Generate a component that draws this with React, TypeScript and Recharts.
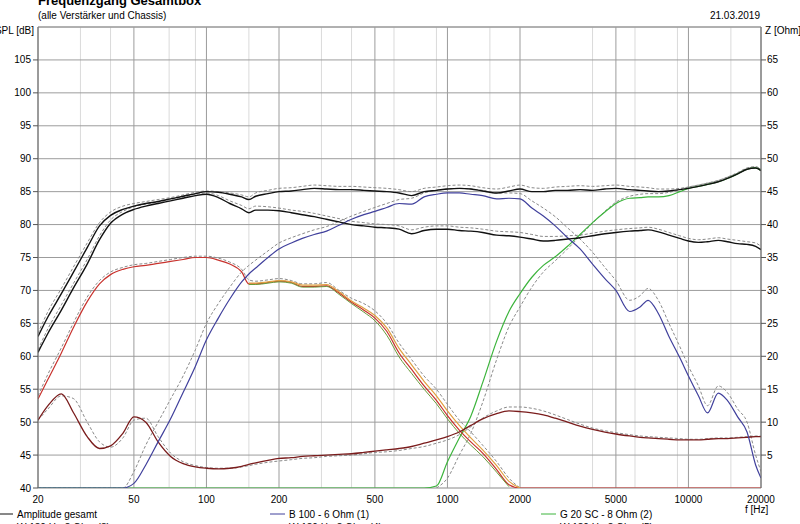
import React from "react";
import {
  LineChart,
  Line,
  XAxis,
  YAxis,
  CartesianGrid,
  ReferenceLine,
} from "recharts";

// frequency grid (Hz) shared by all curves
const FREQS = [
  20, 22, 25, 28, 32, 36, 40, 45, 50, 56,
  63, 71, 80, 90, 100, 112, 125, 140, 150, 160,
  180, 200, 225, 250, 280, 315, 355, 400, 450, 500,
  560, 630, 710, 800, 900, 1000, 1120, 1250, 1400, 1600,
  1800, 2000, 2240, 2500, 2800, 3150, 3550, 4000, 4500, 5000,
  5700, 6300, 6800, 7500, 8300, 9200, 10000, 11000, 12000, 13300,
  14500, 16000, 17500, 19000, 20000,
];

// SPL [dB]
const TOTAL = [
  63, 66, 69.5, 72.7, 76.5, 79.8, 81.4, 82.3, 82.8, 83.2,
  83.5, 83.9, 84.3, 84.7, 85, 84.9, 84.6, 84.2, 83.8, 84.3,
  84.7, 85, 85.1, 85.3, 85.5, 85.4, 85.3, 85.3, 85.2, 85.1,
  85, 84.8, 84.4, 85, 85.2, 85.4, 85.5, 85.4, 85.1, 84.8,
  85.1, 85.4, 85, 85, 85.2, 85.2, 85.3, 85.2, 85.4, 85.5,
  85.3, 85.2, 85.1, 85, 85.1, 85.3, 85.5, 85.8, 86.1, 86.5,
  87, 87.7, 88.4, 88.6, 88.2,
];
const TOTAL_DASH = [
  63.5, 66.8, 70.3, 73.5, 77.2, 80.3, 81.9, 82.8, 83.2, 83.5,
  83.8, 84.1, 84.5, 84.9, 85.1, 85, 84.8, 84.5, 84.2, 84.8,
  85.2, 85.5, 85.6, 85.8, 86, 85.9, 85.8, 85.8, 85.7, 85.6,
  85.5, 85.3, 85, 85.5, 85.7, 85.9, 86, 85.9, 85.6, 85.4,
  85.7, 86, 85.6, 85.5, 85.7, 85.8, 85.9, 85.8, 85.9, 86,
  85.8, 85.7, 85.6, 85.4, 85.4, 85.5, 85.7, 86, 86.3, 86.7,
  87.2, 87.8, 88.5, 88.7, 88.4,
];
const SUB = [
  60.6, 63.5, 67, 70.3, 74, 77.7, 80.2, 81.6, 82.3, 82.8,
  83.2, 83.6, 84, 84.4, 84.6, 84.1, 83.2, 82.4, 81.8, 82.2,
  82.2, 82.1, 81.8, 81.5, 81.2, 80.8, 80.4, 80, 79.8, 79.6,
  79.5, 79.3, 78.6, 79.1, 79.3, 79.3, 79.1, 79, 78.8, 78.4,
  78.3, 78.1, 77.8, 77.5, 77.6, 77.8, 78, 78.3, 78.6, 78.8,
  79, 79.1, 79.2, 78.9, 78.4, 77.9, 77.5, 77.3, 77.4, 77.6,
  77.4, 77.1, 77, 76.7, 76.2,
];
const SUB_DASH = [
  61, 64.2, 67.8, 71, 74.7, 78.3, 80.7, 82, 82.7, 83.1,
  83.4, 83.8, 84.2, 84.6, 84.8, 84.4, 83.6, 82.9, 82.4, 82.8,
  82.7, 82.5, 82.2, 82, 81.7, 81.3, 80.9, 80.5, 80.3, 80.1,
  80, 79.8, 79.2, 79.6, 79.8, 79.8, 79.6, 79.5, 79.3, 79,
  78.9, 78.8, 78.5, 78.2, 78.2, 78.3, 78.4, 78.7, 79, 79.2,
  79.4, 79.5, 79.6, 79.3, 78.8, 78.3, 77.9, 77.7, 77.8, 78,
  77.8, 77.6, 77.4, 77.2, 76.7,
];
const WOOFER = [
  53.5, 56.5, 60.5, 64.3, 68.3, 71, 72.4, 73.2, 73.6, 73.8,
  74.1, 74.4, 74.7, 75, 75, 74.6, 74, 72.8, 71, 71,
  71.2, 71.4, 71.2, 70.6, 70.6, 70.7, 69.6, 68.2, 67, 65.8,
  63.8, 60.5, 58, 55.5, 53.3, 51, 48.8, 47, 45.3, 42.8,
  40.5, 40, 40, 40, 40, 40, 40, 40, 40, 40,
  40, 40, 40, 40, 40, 40, 40, 40, 40, 40,
  40, 40, 40, 40, 40,
];
const WOOFER_DASH = [
  54, 57.3, 61.3, 65, 69, 71.5, 72.8, 73.5, 73.9, 74.1,
  74.4, 74.7, 75, 75.2, 75.2, 74.9, 74.3, 73.2, 71.6, 71.4,
  71.6, 71.8, 71.5, 71, 71, 71.2, 70, 68.8, 68, 66.9,
  65, 62, 59.5, 57, 55, 52.7, 50.3, 48.5, 46.5, 44,
  41.5, 40, null, null, null, null, null, null, null, null,
  null, null, null, null, null, null, null, null, null, null,
  null, null, null, null, null,
];
const WOOFER_B = [
  null, null, null, null, null, null, null, null, null, null,
  null, null, null, null, null, null, null, null, 71.1, 71.1,
  71.3, 71.5, 71.3, 70.8, 70.8, 70.9, 69.8, 68.4, 67.3, 66.2,
  64.3, 61.2, 58.7, 56.2, 54, 51.7, 49.5, 47.6, 45.8, 43.4,
  41, 40, null, null, null, null, null, null, null, null,
  null, null, null, null, null, null, null, null, null, null,
  null, null, null, null, null,
];
const WOOFER_C = [
  null, null, null, null, null, null, null, null, null, null,
  null, null, null, null, null, null, null, null, 70.9, 70.9,
  71.1, 71.3, 71.1, 70.5, 70.5, 70.6, 69.4, 68, 66.7, 65.4,
  63.2, 59.9, 57.4, 55, 52.8, 50.5, 48.3, 46.5, 44.8, 42.4,
  40.2, null, null, null, null, null, null, null, null, null,
  null, null, null, null, null, null, null, null, null, null,
  null, null, null, null, null,
];
const MID = [
  40, 40, 40, 40, 40, 40, 40, 40, 40.7, 43.5,
  47, 50.5, 54.5, 58.5, 62.5, 65.8, 68.7, 71.3, 72.5, 73.4,
  75, 76.3, 77.2, 77.9, 78.5, 79, 79.9, 80.8, 81.5, 82,
  82.6, 83.2, 83.1, 84.2, 84.6, 84.8, 84.8, 84.6, 84.4, 83.9,
  84, 83.9, 82.5, 81.3, 79.8, 78, 76.3, 74, 71.8, 70,
  66.8, 67.5, 68.5, 66.5, 63, 59.8, 57, 54, 51.4, 54.4,
  53.3, 50.8, 48.5, 43.5, 41.5,
];
const MID_DASH = [
  40, 40, 40, 40, 40, 40, 40, 40, 42.5, 46.5,
  50, 53.5, 57, 61, 65, 68, 70.5, 72.8, 73.8, 74.6,
  76, 77.2, 78, 78.6, 79.2, 79.7, 80.5, 81.3, 82, 82.6,
  83.2, 83.8, 84, 84.8, 85.2, 85.4, 85.5, 85.4, 85.2, 84.8,
  84.8, 84.7, 83.6, 82.5, 81.2, 79.5, 77.8, 75.8, 73.5, 71.5,
  68.5, 69.2, 70.3, 68.5, 65, 61.5, 58.5, 55.5, 52.5, 55.5,
  54.5, 52, 50, 45, 42.5,
];
const TWEETER = [
  40, 40, 40, 40, 40, 40, 40, 40, 40, 40,
  40, 40, 40, 40, 40, 40, 40, 40, 40, 40,
  40, 40, 40, 40, 40, 40, 40, 40, 40, 40,
  40, 40, 40, 40, 40.3, 44, 47.6, 50.9, 56, 62.3,
  66.8, 69.5, 72, 73.8, 75.1, 76.7, 78.5, 80.3, 81.9, 83.2,
  84, 84.1, 84.2, 84.2, 84.4, 85, 85.5, 85.8, 86.1, 86.5,
  87, 87.7, 88.4, 88.6, 88.2,
];
const TWEETER_DASH = [
  null, null, null, null, null, null, null, null, null, null,
  null, null, null, null, null, null, null, null, null, null,
  null, null, null, null, null, null, null, null, null, null,
  null, null, null, null, 40, 41.5, 45, 48.3, 53, 59.5,
  64.5, 67.5, 70.5, 72.8, 74.5, 76.3, 78.3, 80.2, 82, 83.4,
  84.3, 84.6, 84.7, 84.7, 84.9, 85.3, 85.7, 86, 86.3, 86.7,
  87.2, 87.9, 88.6, 88.8, 88.4,
];

// impedance Z [Ohm]
const IMPEDANCE = [
  10.3, 12.5, 14.3, 11.5, 7.8, 6, 6.4, 8.3, 10.8, 10,
  7, 4.8, 3.7, 3.2, 3, 2.9, 3, 3.3, 3.6, 3.8,
  4.2, 4.5, 4.6, 4.8, 4.9, 5, 5.1, 5.2, 5.4, 5.6,
  5.8, 6, 6.3, 6.8, 7.3, 7.8, 8.5, 9.5, 10.5, 11.3,
  11.7, 11.6, 11.4, 11.1, 10.6, 10, 9.4, 8.9, 8.5, 8.2,
  7.9, 7.7, 7.6, 7.5, 7.4, 7.3, 7.3, 7.3, 7.4, 7.5,
  7.5, 7.6, 7.7, 7.8, 7.8,
];
const IMPEDANCE_DASH = [
  10.3, 12, 14, 13.6, 10, 7, 6.2, 7.6, 10.3, 10.6,
  7.8, 5.3, 4, 3.4, 3.1, 3, 3, 3.2, 3.4, 3.6,
  3.9, 4.1, 4.3, 4.5, 4.6, 4.8, 4.9, 5, 5.2, 5.4,
  5.5, 5.7, 6, 6.3, 6.8, 7.3, 8.1, 9.3, 10.6, 11.7,
  12.3, 12.3, 12.1, 11.7, 11.1, 10.4, 9.7, 9.1, 8.7, 8.4,
  8.1, 7.9, 7.8, 7.7, 7.6, 7.5, 7.4, 7.4, 7.5, 7.6,
  7.6, 7.7, 7.8, 7.9, 7.9,
];

const X_TICKS = [20, 50, 100, 200, 500, 1000, 2000, 5000, 10000, 20000];
const X_MINOR = [
  30, 40, 60, 70, 80, 90, 150, 300, 400, 600, 700, 800, 900, 1500,
  3000, 4000, 6000, 7000, 8000, 9000, 15000,
];
const SPL_TICKS = [40, 45, 50, 55, 60, 65, 70, 75, 80, 85, 90, 95, 100, 105];
const SPL_MINOR = Array.from({ length: 71 }, (_, i) => 40 + i);
const Z_TICKS = [5, 10, 15, 20, 25, 30, 35, 40, 45, 50, 55, 60, 65];

const FONT = "'Liberation Sans', Arial, sans-serif";
const BLACK = "#111111";
const DASH = "#8a8a8a";
const BLUE = "#40409c";
const GREEN = "#3cb43c";
const RED = "#c8322d";
const ORANGE = "#e0a040";
const OLIVE = "#6a9a3a";
const MAROON = "#7a1c1c";

const rows = FREQS.map((f, i) => ({
  f,
  total: TOTAL[i],
  totalDash: TOTAL_DASH[i],
  sub: SUB[i],
  subDash: SUB_DASH[i],
  woofer: WOOFER[i],
  wooferDash: WOOFER_DASH[i],
  wooferB: WOOFER_B[i],
  wooferC: WOOFER_C[i],
  mid: MID[i],
  midDash: MID_DASH[i],
  tweeter: TWEETER[i],
  tweeterDash: TWEETER_DASH[i],
  z: IMPEDANCE[i],
  zDash: IMPEDANCE_DASH[i],
}));

const tickStyle = { fontSize: 10, fontFamily: FONT, fill: "#000" };

function Overlay() {
  const t = { fontFamily: FONT, fontSize: 10, fill: "#000" };
  return (
    <svg
      width={800}
      height={524}
      style={{ position: "absolute", left: 0, top: 0, pointerEvents: "none" }}
    >
      <text x={38} y={5} style={{ ...t, fontSize: 13, fontWeight: "bold" }}>
        Frequenzgang Gesamtbox
      </text>
      <text x={38} y={19} style={t}>
        (alle Verstärker und Chassis)
      </text>
      <text x={760} y={19} textAnchor="end" style={t}>
        21.03.2019
      </text>
      <text x={34} y={34} textAnchor="end" style={t}>
        SPL [dB]
      </text>
      <text x={765} y={34} style={t}>
        Z [Ohm]
      </text>
      <text x={745} y={513} style={t}>
        f [Hz]
      </text>
      <line x1={0} x2={13} y1={514} y2={514} stroke={BLACK} />
      <text x={17} y={518} style={t}>Amplitude gesamt</text>
      <line x1={270} x2={285} y1={514} y2={514} stroke={BLUE} />
      <text x={289} y={518} style={t}>B 100 - 6 Ohm (1)</text>
      <line x1={541} x2={556} y1={514} y2={514} stroke={GREEN} />
      <text x={560} y={518} style={t}>G 20 SC - 8 Ohm (2)</text>
      <line x1={0} x2={13} y1={527} y2={527} stroke={RED} />
      <text x={17} y={531} style={t}>W 130 H - 8 Ohm (3)</text>
      <line x1={270} x2={285} y1={527} y2={527} stroke={ORANGE} />
      <text x={289} y={531} style={t}>W 130 H - 8 Ohm (4)</text>
      <line x1={541} x2={556} y1={527} y2={527} stroke={OLIVE} />
      <text x={560} y={531} style={t}>W 130 H - 8 Ohm (5)</text>
    </svg>
  );
}

export default function App() {
  const dashed = {
    stroke: DASH,
    strokeWidth: 1,
    strokeDasharray: "3 2",
    dot: false,
    isAnimationActive: false,
    type: "monotone" as const,
    yAxisId: "spl",
  };
  const solid = {
    dot: false,
    isAnimationActive: false,
    type: "monotone" as const,
    yAxisId: "spl",
  };
  return (
    <div
      style={{
        position: "absolute",
        left: 0,
        top: 0,
        width: 800,
        height: 524,
        overflow: "hidden",
        background: "#fff",
      }}
    >
      <LineChart
        width={800}
        height={524}
        data={rows}
        margin={{ top: 27, right: 0, bottom: 0, left: 0 }}
      >
        <XAxis
          dataKey="f"
          type="number"
          scale="log"
          domain={[20, 20000]}
          ticks={X_TICKS}
          interval={0}
          allowDataOverflow
          height={36}
          tickLine={false}
          tickSize={6}
          tickMargin={2}
          tick={tickStyle}
          axisLine={false}
        />
        <YAxis
          yAxisId="spl"
          type="number"
          domain={[40, 110]}
          ticks={SPL_TICKS}
          interval={0}
          allowDataOverflow
          width={38}
          tickSize={5}
          tickMargin={2}
          tick={tickStyle}
          tickLine={{ stroke: "#555" }}
          axisLine={{ stroke: "#707070" }}
        />
        <YAxis
          yAxisId="z"
          orientation="right"
          type="number"
          domain={[0, 70]}
          ticks={Z_TICKS}
          interval={0}
          allowDataOverflow
          width={39}
          tickSize={5}
          tickMargin={1}
          tick={{ ...tickStyle, textAnchor: "start" }}
          tickLine={{ stroke: "#555" }}
          axisLine={{ stroke: "#707070" }}
        />
        <XAxis
          xAxisId="minor"
          dataKey="f"
          type="number"
          scale="log"
          domain={[20, 20000]}
          ticks={X_MINOR}
          height={0}
          hide
        />
        <YAxis
          yAxisId="minor"
          type="number"
          domain={[40, 110]}
          ticks={SPL_MINOR}
          width={0}
          hide
        />
        <CartesianGrid xAxisId="minor" yAxisId="minor" stroke="#dadada" />
        <CartesianGrid yAxisId="spl" stroke="#9c9c9c" />
        <ReferenceLine yAxisId="spl" y={110} stroke="#9c9c9c" />

        <Line {...dashed} dataKey="totalDash" />
        <Line {...dashed} dataKey="subDash" />
        <Line {...dashed} dataKey="wooferDash" />
        <Line {...dashed} dataKey="midDash" />
        <Line {...dashed} dataKey="tweeterDash" />
        <Line {...dashed} dataKey="zDash" yAxisId="z" />

        <Line {...solid} dataKey="tweeter" stroke={GREEN} strokeWidth={1.2} />
        <Line {...solid} dataKey="woofer" stroke={RED} strokeWidth={1.2} />
        <Line {...solid} dataKey="wooferB" stroke={ORANGE} strokeWidth={1.2} />
        <Line {...solid} dataKey="wooferC" stroke={OLIVE} strokeWidth={1} />
        <Line {...solid} dataKey="z" yAxisId="z" stroke={MAROON} strokeWidth={1.3} />
        <Line {...solid} dataKey="mid" stroke={BLUE} strokeWidth={1.2} />
        <Line {...solid} dataKey="total" stroke={BLACK} strokeWidth={1.4} />
        <Line {...solid} dataKey="sub" stroke={BLACK} strokeWidth={1.4} />
      </LineChart>
      <Overlay />
    </div>
  );
}
